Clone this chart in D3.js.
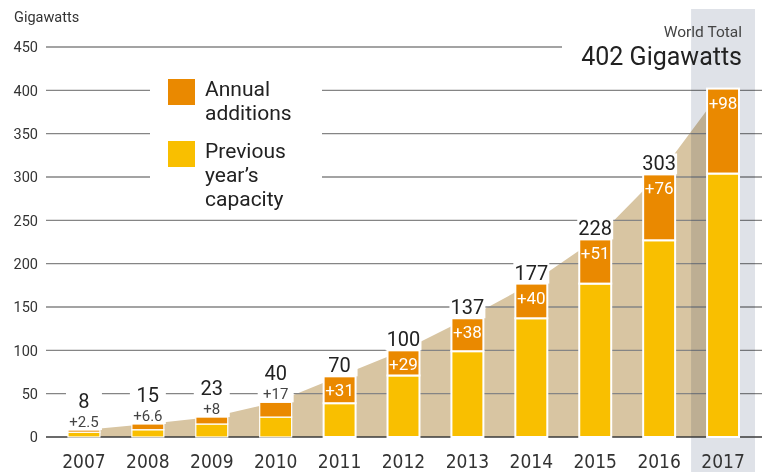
<!DOCTYPE html>
<html>
<head>
<meta charset="utf-8">
<script src="https://cdn.jsdelivr.net/npm/d3@7/dist/d3.min.js"></script>
<style>
  html, body { margin: 0; padding: 0; background: #fff; }
  svg { display: block; }
  text { font-family: Roboto, "Liberation Sans", sans-serif; }
  .narrow { font-family: "Liberation Sans Narrow", "DejaVu Sans Condensed", Roboto, sans-serif; }
</style>
</head>
<body>
<svg id="chart" width="762" height="472"></svg>
<script>
// ---- data ----
const years = ["2007","2008","2009","2010","2011","2012","2013","2014","2015","2016","2017"];
const previousCapacity = [5.5, 8.4, 15, 23, 39, 71, 99, 137, 177, 227, 304];
const annualAdditions = [2.5, 6.6, 8, 17, 31, 29, 38, 40, 51, 76, 98];
const totals = [8, 15, 23, 40, 70, 100, 137, 177, 228, 303, 402];
const totalLabels = ["8","15","23","40","70","100","137","177","228","303",""];
const additionLabels = ["+2.5","+6.6","+8","+17","+31","+29","+38","+40","+51","+76","+98"];
const yTicks = [0, 50, 100, 150, 200, 250, 300, 350, 400, 450];
const legendLabels = [["Annual", "additions"], ["Previous", "year\u2019s", "capacity"]];
const highlightYear = "2017";

const COL_YELLOW = "#f9bf00";
const COL_ORANGE = "#ea8900";
const COL_TAN = "#d8c5a2";
const COL_GRAY = "#dfe2e8";

const svg = d3.select("#chart");
const W = 762, H = 472;

const y = d3.scaleLinear().domain([0, 450]).range([437, 47]);
const x = d3.scaleBand().domain(years).range([52, 755]).paddingInner(0.5).paddingOuter(0.25);
const bw = x.bandwidth();
const step = x.step();
const cx = d => x(d) + bw / 2;

const data = years.map((yr, i) => ({
  year: yr, prev: previousCapacity[i], add: annualAdditions[i], total: totals[i],
  top: previousCapacity[i] + annualAdditions[i],
  tLabel: totalLabels[i], aLabel: additionLabels[i]
}));

// tan area
const area = d3.area()
  .x(d => cx(d.year))
  .y0(y(0))
  .y1(d => y(d.total));
svg.append("path").datum(data).attr("d", area).attr("fill", COL_TAN);

// gridlines
svg.append("g").selectAll("line").data(yTicks.filter(t => t > 0)).join("line")
  .attr("x1", 46).attr("x2", W)
  .attr("y1", d => y(d)).attr("y2", d => y(d))
  .attr("stroke", "#858585").attr("stroke-width", 1.3);

// tick labels
svg.append("g").selectAll("text").data(yTicks).join("text")
  .attr("x", 38).attr("y", d => y(d)).attr("dy", "0.36em")
  .attr("text-anchor", "end").attr("font-size", 14.5).attr("fill", "#333")
  .text(d => d);

svg.append("text").attr("x", 14).attr("y", 22).attr("font-size", 14.5).attr("fill", "#333").text("Gigawatts");

// white knockout boxes
const isInside = d => (y(d.prev) - y(d.top)) > 20;
const labelTop = d => isInside(d) ? y(d.top) - 21 : y(d.top) - 38;
svg.append("g").selectAll("rect").data(data.filter(d => d.tLabel !== "")).join("rect")
  .attr("x", d => x(d.year) - 2).attr("width", bw + 4)
  .attr("y", d => labelTop(d)).attr("height", d => y(d.top) - labelTop(d))
  .attr("fill", "#fff");

// legend background
svg.append("rect").attr("x", 150).attr("y", 66).attr("width", 172).attr("height", 148).attr("fill", "#fff");
// title background
svg.append("rect").attr("x", 562).attr("y", 14).attr("width", 200).attr("height", 62).attr("fill", "#fff");

// highlight column (multiply)
svg.append("rect")
  .attr("x", x(highlightYear) - step * 0.25).attr("width", bw + step * 0.5)
  .attr("y", 9).attr("height", H - 9)
  .attr("fill", COL_GRAY).style("mix-blend-mode", "multiply");

// baseline
svg.append("line").attr("x1", 46).attr("x2", W).attr("y1", y(0)).attr("y2", y(0))
  .attr("stroke", "#3a3a3a").attr("stroke-width", 1.6);

// bars
const bars = svg.append("g");
bars.selectAll("rect.prev").data(data).join("rect").attr("class", "prev")
  .attr("x", d => x(d.year)).attr("width", bw)
  .attr("y", d => y(d.prev)).attr("height", d => y(0) - y(d.prev))
  .attr("fill", COL_YELLOW).attr("stroke", "#fff").attr("stroke-width", d => isInside(d) ? 2 : 1.2);
bars.selectAll("rect.add").data(data).join("rect").attr("class", "add")
  .attr("x", d => x(d.year)).attr("width", bw)
  .attr("y", d => y(d.top)).attr("height", d => y(d.prev) - y(d.top))
  .attr("fill", COL_ORANGE).attr("stroke", "#fff").attr("stroke-width", d => isInside(d) ? 2 : 1.2);

// total labels
svg.append("g").selectAll("text").data(data.filter(d => d.tLabel !== "")).join("text")
  .attr("x", d => cx(d.year))
  .attr("y", d => isInside(d) ? y(d.top) - 4 : y(d.top) - 22)
  .attr("text-anchor", "middle").attr("font-size", 20).attr("fill", "#222")
  .text(d => d.tLabel);

// addition labels
svg.append("g").selectAll("text").data(data).join("text")
  .attr("x", d => cx(d.year))
  .attr("y", d => isInside(d) ? y(d.top) + 20 : y(d.top) - 3)
  .attr("text-anchor", "middle")
  .attr("font-size", d => isInside(d) ? 17 : 15)
  .attr("fill", d => isInside(d) ? "#fff" : "#444")
  .text(d => d.aLabel);

// year labels
svg.append("g").selectAll("text").data(years).join("text")
  .attr("class", "narrow")
  .attr("x", d => cx(d)).attr("y", 468)
  .attr("text-anchor", "middle").attr("font-size", 19).attr("fill", "#333")
  .text(d => d);

// title
svg.append("text").attr("x", 742).attr("y", 37).attr("text-anchor", "end")
  .attr("font-size", 15.5).attr("fill", "#444").text("World Total");
svg.append("text").attr("x", 742).attr("y", 65).attr("text-anchor", "end")
  .attr("font-size", 25).attr("fill", "#222").text("402 Gigawatts");

// legend
const legendColors = [COL_ORANGE, COL_YELLOW];
const legendY = [79, 141];
const lg = svg.append("g");
legendLabels.forEach((lines, i) => {
  lg.append("rect").attr("x", 168).attr("y", legendY[i]).attr("width", 27).attr("height", 26)
    .attr("fill", legendColors[i]);
  const t = lg.append("text").attr("x", 205).attr("y", legendY[i] + 17)
    .attr("font-size", 21).attr("fill", "#222");
  lines.forEach((ln, j) => {
    t.append("tspan").attr("x", 205).attr("dy", j === 0 ? 0 : 24).text(ln);
  });
});
</script>
</body>
</html>
